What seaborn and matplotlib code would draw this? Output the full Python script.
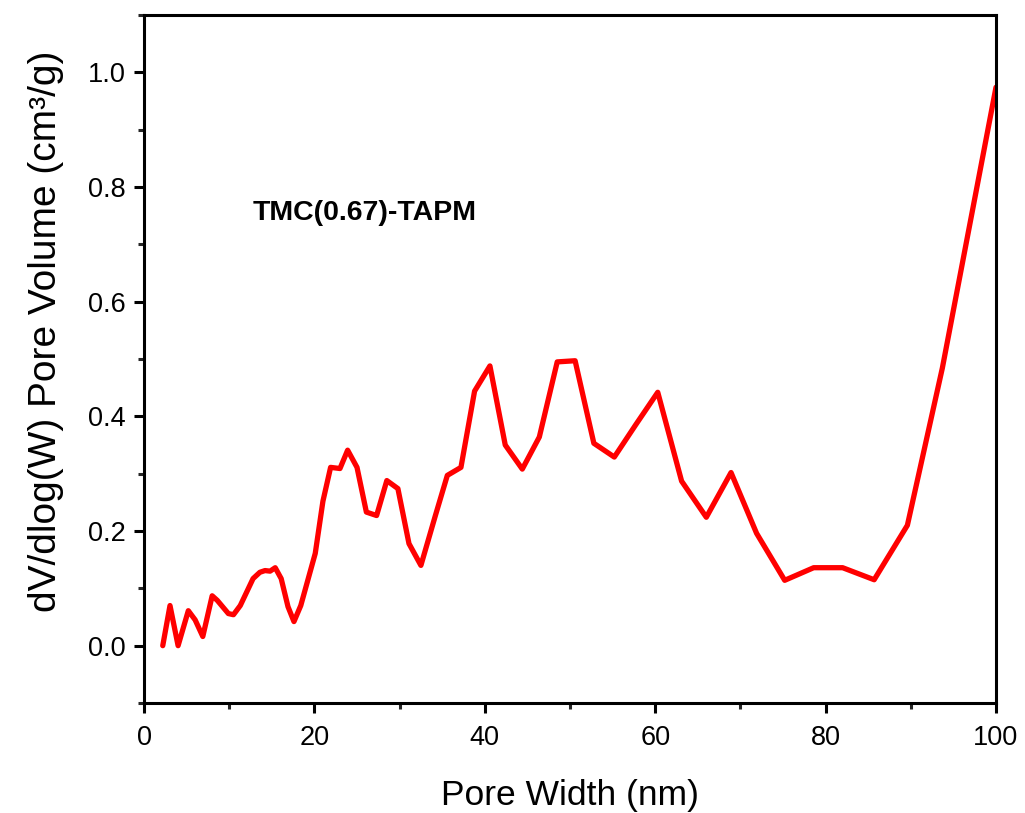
import matplotlib
matplotlib.use("Agg")
import matplotlib.pyplot as plt
from matplotlib.ticker import MultipleLocator
import seaborn as sns
import pandas as pd

pore_width = [2.2, 3.05, 4.0, 5.2, 6.0, 6.9, 8.0, 8.6, 9.9, 10.5, 11.3, 12.8, 13.6, 14.2,
              14.8, 15.4, 16.1, 16.9, 17.6, 18.4, 20.1, 21.0, 21.9, 23.0, 23.9, 25.0,
              26.1, 27.3, 28.5, 29.8, 31.1, 32.5, 34.2, 35.6, 37.2, 38.8, 40.6, 42.4,
              44.4, 46.4, 48.5, 50.6, 52.8, 55.2, 57.7, 60.3, 63.1, 66.0, 68.9, 71.9,
              75.2, 78.6, 82.0, 85.7, 89.6, 93.7, 97.7, 100.0]
pore_volume = [0.0, 0.07, 0.0, 0.061, 0.045, 0.016, 0.087, 0.079, 0.056, 0.054, 0.07, 0.117,
               0.128, 0.131, 0.13, 0.136, 0.117, 0.068, 0.042, 0.07, 0.161, 0.252, 0.311,
               0.309, 0.341, 0.311, 0.233, 0.227, 0.288, 0.274, 0.178, 0.14, 0.227, 0.297,
               0.311, 0.444, 0.488, 0.35, 0.308, 0.364, 0.495, 0.497, 0.353, 0.329, 0.385,
               0.442, 0.287, 0.224, 0.302, 0.196, 0.114, 0.136, 0.136, 0.115, 0.21, 0.484,
               0.795, 0.974]

sample_label = "TMC(0.67)-TAPM"
x_label = "Pore Width (nm)"
y_label = "dV/dlog(W) Pore Volume (cm³/g)"

sns.set_style("white")
plt.rcParams['font.family'] = ['Liberation Sans', 'DejaVu Sans']
plt.rcParams['text.color'] = 'black'
plt.rcParams['axes.labelcolor'] = 'black'

df = pd.DataFrame({"w": pore_width, "v": pore_volume})

fig = plt.figure(figsize=(10.25, 8.13), dpi=100)
ax = fig.add_axes([0.1405, 0.1353, 0.9717 - 0.1405, 0.9815 - 0.1353])
sns.lineplot(data=df, x="w", y="v", sort=False, color="#ff0000", linewidth=3.8, ax=ax)

ax.set_xlim(0, 100)
ax.set_ylim(-0.1, 1.1)
ax.xaxis.set_major_locator(MultipleLocator(20))
ax.xaxis.set_minor_locator(MultipleLocator(10))
ax.yaxis.set_major_locator(MultipleLocator(0.2))
ax.yaxis.set_minor_locator(MultipleLocator(0.1))
ax.yaxis.set_major_formatter(matplotlib.ticker.FormatStrFormatter('%.1f'))

for s in ax.spines.values():
    s.set_visible(True)
    s.set_linewidth(2.2)
    s.set_color("black")
ax.tick_params(axis='both', which='major', direction='out', length=7, width=2.2,
               labelsize=19.5, colors='black', bottom=True, left=True, top=False, right=False)
ax.tick_params(axis='x', which='major', pad=9)
ax.tick_params(axis='y', which='major', pad=6)
ax.tick_params(axis='both', which='minor', direction='out', length=4, width=2.2,
               bottom=True, left=True, top=False, right=False)

ax.set_xlabel(x_label, fontsize=25.5, labelpad=20)
ax.set_ylabel(y_label, fontsize=28)
ax.yaxis.set_label_coords(-0.094, 0.54)
ax.text(12.8, 0.755, sample_label, fontsize=20.5, fontweight='bold', va='center', ha='left')

fig.savefig("out.png", dpi=100)
